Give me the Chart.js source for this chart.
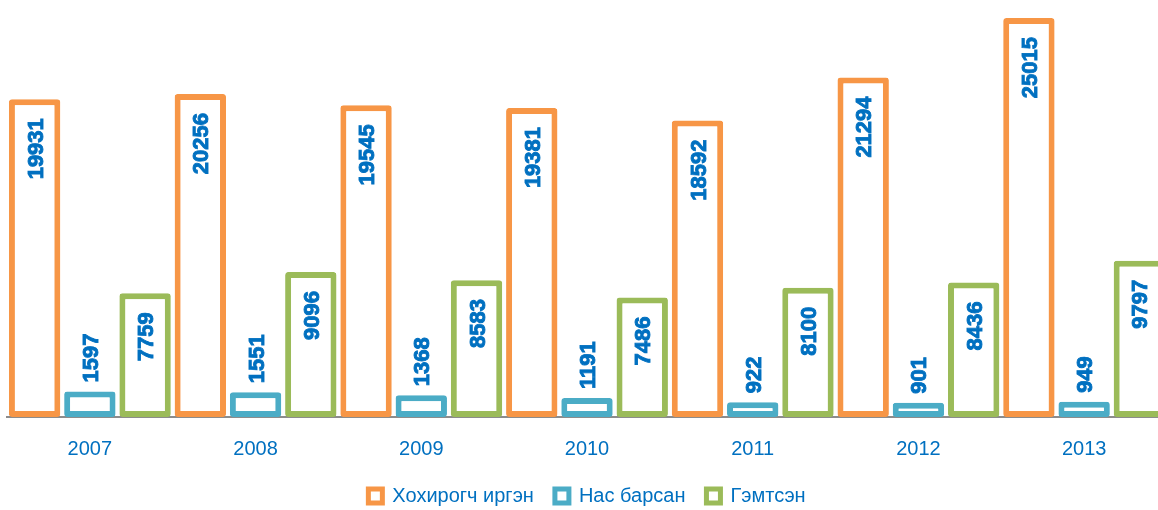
<!DOCTYPE html>
<html>
<head>
<meta charset="utf-8">
<script src="https://cdn.jsdelivr.net/npm/chart.js@4.4.1/dist/chart.umd.min.js"></script>
<style>
  html, body { margin: 0; padding: 0; background: #fff; overflow: hidden; }
  #wrap { width: 1168px; height: 510px; position: relative; }
</style>
</head>
<body>
<div id="wrap"><canvas id="chart"></canvas></div>
<script>
const years = ['2007', '2008', '2009', '2010', '2011', '2012', '2013'];
const damaged = [19931, 20256, 19545, 19381, 18592, 21294, 25015];
const died = [1597, 1551, 1368, 1191, 922, 901, 949];
const injured = [7759, 9096, 8583, 7486, 8100, 8436, 9797];

const seriesNames = ['Хохирогч иргэн', 'Нас барсан', 'Гэмтсэн'];
const colors = ['#F79646', '#4BACC6', '#9BBB59'];
const textBlue = '#0070C0';

// value labels, rotated, inside the top of tall bars and above short ones
const barLabels = {
  id: 'barLabels',
  afterDatasetsDraw(chart) {
    const ctx = chart.ctx;
    ctx.save();
    ctx.font = 'bold 22px "Liberation Sans", Arial, sans-serif';
    ctx.fillStyle = textBlue;
    ctx.strokeStyle = textBlue;
    ctx.lineWidth = 0.9;
    ctx.textBaseline = 'middle';
    chart.data.datasets.forEach((ds, i) => {
      chart.getDatasetMeta(i).data.forEach((bar, j) => {
        const txt = String(ds.data[j]);
        const w = ctx.measureText(txt).width;
        const h = bar.base - bar.y;
        ctx.save();
        if (h > w + 40) {
          ctx.translate(bar.x + 2, bar.y + 19);
          ctx.rotate(-Math.PI / 2);
          ctx.textAlign = 'right';
        } else {
          ctx.translate(bar.x + 2, bar.y - 9);
          ctx.rotate(-Math.PI / 2);
          ctx.textAlign = 'left';
        }
        ctx.fillText(txt, 0, 0);
        ctx.strokeText(txt, 0, 0);
        ctx.restore();
      });
    });
    ctx.restore();
  }
};

const mk = (label, data, color) => ({
  label: label,
  data: data,
  backgroundColor: '#ffffff',
  borderColor: color,
  borderWidth: 6,
  borderRadius: 3,
  borderSkipped: false
});

new Chart(document.getElementById('chart'), {
  type: 'bar',
  data: {
    labels: years,
    datasets: [
      mk(seriesNames[0], damaged, colors[0]),
      mk(seriesNames[1], died, colors[1]),
      mk(seriesNames[2], injured, colors[2])
    ]
  },
  options: {
    responsive: true,
    maintainAspectRatio: false,
    animation: false,
    layout: { padding: { left: 7, right: 1, top: 0, bottom: -6 } },
    categoryPercentage: 1.0,
    barPercentage: 0.93,
    scales: {
      x: {
        z: 1,
        grid: { display: false, drawTicks: false },
        border: { display: true, color: '#8C8C8C', width: 2 },
        ticks: {
          color: textBlue,
          padding: 20,
          font: { family: '"Liberation Sans", Arial, sans-serif', size: 20 }
        },
        afterFit(scale) { scale.height = 48; }
      },
      y: {
        display: false,
        min: 0,
        max: 26150
      }
    },
    plugins: {
      tooltip: { enabled: false },
      legend: {
        position: 'bottom',
        labels: {
          color: textBlue,
          boxWidth: 14,
          boxHeight: 14,
          padding: 21,
          font: { family: '"Liberation Sans", Arial, sans-serif', size: 20 },
          generateLabels(chart) {
            return chart.data.datasets.map((ds, i) => ({
              text: ds.label,
              fillStyle: '#ffffff',
              strokeStyle: ds.borderColor,
              lineWidth: 5,
              fontColor: textBlue,
              datasetIndex: i
            }));
          }
        }
      }
    }
  },
  plugins: [barLabels]
});
</script>
</body>
</html>
